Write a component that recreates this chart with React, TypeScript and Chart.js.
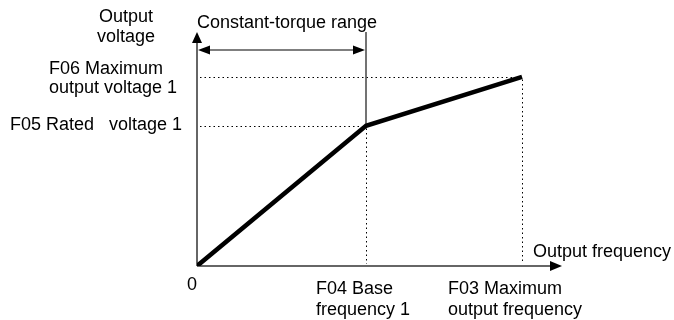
import React, { useEffect, useRef } from "react";
import { Chart, registerables } from "chart.js";

Chart.register(...registerables);

// ---- data ----
const freqValues = [0, 52, 100]; // origin, base frequency, maximum output frequency
const voltageValues = [0, 100, 135]; // origin, rated voltage, maximum output voltage
const freqLabels = ["0", "F04 Base\nfrequency 1", "F03 Maximum\noutput frequency"];
const voltageLabels = ["", "F05 Rated   voltage 1", "F06 Maximum\noutput voltage 1"];
const xAxisTitle = "Output frequency";
const yAxisTitle = ["Output", "voltage"];
const rangeLabel = "Constant-torque range";
const xMax = 112.3;
const yMax = 167;

const FONT = "18px 'Liberation Sans', Arial, sans-serif";

function arrowHead(ctx: CanvasRenderingContext2D, tx: number, ty: number, dir: "up" | "right" | "left", len: number, half: number) {
  ctx.beginPath();
  if (dir === "up") {
    ctx.moveTo(tx, ty);
    ctx.lineTo(tx - half, ty + len);
    ctx.lineTo(tx + half, ty + len);
  } else if (dir === "right") {
    ctx.moveTo(tx, ty);
    ctx.lineTo(tx - len, ty - half);
    ctx.lineTo(tx - len, ty + half);
  } else {
    ctx.moveTo(tx, ty);
    ctx.lineTo(tx + len, ty - half);
    ctx.lineTo(tx + len, ty + half);
  }
  ctx.closePath();
  ctx.fill();
}

const vfPlugin = {
  id: "vfDiagram",
  beforeDatasetsDraw(chart: any) {
    const { ctx, chartArea } = chart;
    const xs = chart.scales.x;
    const ys = chart.scales.y;
    const x0 = Math.round(xs.getPixelForValue(0));
    const y0 = Math.round(ys.getPixelForValue(0));
    ctx.save();

    // dotted guide lines
    ctx.strokeStyle = "#000";
    ctx.lineWidth = 1;
    ctx.setLineDash([1.5, 3]);
    for (let i = 1; i < freqValues.length; i++) {
      const px = Math.round(xs.getPixelForValue(freqValues[i])) + 0.5;
      const py = Math.round(ys.getPixelForValue(voltageValues[i])) + 0.5;
      ctx.beginPath();
      ctx.moveTo(x0 + 3, py);
      ctx.lineTo(px, py);
      ctx.stroke();
      ctx.beginPath();
      ctx.moveTo(px, py + 2);
      ctx.lineTo(px, y0 - 2);
      ctx.stroke();
    }
    ctx.setLineDash([]);

    // axes
    ctx.strokeStyle = "#333";
    ctx.fillStyle = "#000";
    ctx.lineWidth = 1.5;
    ctx.beginPath();
    ctx.moveTo(x0, y0);
    ctx.lineTo(x0, chartArea.top + 10);
    ctx.stroke();
    arrowHead(ctx, x0, chartArea.top, "up", 11, 5);
    ctx.beginPath();
    ctx.moveTo(x0, y0);
    ctx.lineTo(chartArea.right - 11, y0);
    ctx.stroke();
    arrowHead(ctx, chartArea.right, y0, "right", 12, 5);

    // constant-torque range marker
    const bx = Math.round(xs.getPixelForValue(freqValues[1]));
    const by = ys.getPixelForValue(voltageValues[1]);
    ctx.strokeStyle = "#444";
    ctx.lineWidth = 1.5;
    ctx.beginPath();
    ctx.moveTo(bx, chartArea.top);
    ctx.lineTo(bx, by);
    ctx.stroke();
    const ay = chartArea.top + 18;
    ctx.strokeStyle = "#000";
    ctx.lineWidth = 1.2;
    ctx.beginPath();
    ctx.moveTo(x0 + 10, ay);
    ctx.lineTo(bx - 10, ay);
    ctx.stroke();
    arrowHead(ctx, x0 + 1, ay, "left", 12, 4.5);
    arrowHead(ctx, bx - 1, ay, "right", 12, 4.5);
    ctx.restore();
  },
  afterDraw(chart: any) {
    const { ctx, chartArea } = chart;
    const xs = chart.scales.x;
    const ys = chart.scales.y;
    const x0 = xs.getPixelForValue(0);
    const y0 = ys.getPixelForValue(0);
    ctx.save();
    ctx.font = FONT;
    ctx.fillStyle = "#000";
    ctx.textBaseline = "alphabetic";

    // y axis title
    ctx.textAlign = "center";
    ctx.fillText(yAxisTitle[0], x0 - 71, chartArea.top - 10);
    ctx.fillText(yAxisTitle[1], x0 - 71, chartArea.top + 10);

    // range label
    ctx.textAlign = "left";
    ctx.fillText(rangeLabel, x0, chartArea.top - 4);

    // y labels
    const ry = ys.getPixelForValue(voltageValues[1]);
    ctx.fillText(voltageLabels[1], x0 - 187, ry + 4);
    const my = ys.getPixelForValue(voltageValues[2]);
    const mLines = voltageLabels[2].split("\n");
    ctx.fillText(mLines[0], x0 - 148, my - 3);
    ctx.fillText(mLines[1], x0 - 148, my + 16);

    // x labels
    ctx.textAlign = "center";
    ctx.fillText(freqLabels[0], x0 - 5, y0 + 24);
    ctx.textAlign = "left";
    const bx = xs.getPixelForValue(freqValues[1]);
    const bLines = freqLabels[1].split("\n");
    ctx.fillText(bLines[0], bx - 50, y0 + 28);
    ctx.fillText(bLines[1], bx - 50, y0 + 49);
    const mx = xs.getPixelForValue(freqValues[2]);
    const fLines = freqLabels[2].split("\n");
    ctx.fillText(fLines[0], mx - 74, y0 + 28);
    ctx.fillText(fLines[1], mx - 74, y0 + 49);

    // x axis title
    ctx.fillText(xAxisTitle, chartArea.right - 29, y0 - 9);
    ctx.restore();
  },
};

export default function App() {
  const ref = useRef<HTMLCanvasElement | null>(null);
  useEffect(() => {
    if (!ref.current) return;
    const chart = new Chart(ref.current, {
      type: "line",
      data: {
        datasets: [
          {
            data: freqValues.map((f, i) => ({ x: f, y: voltageValues[i] })),
            borderColor: "#000",
            borderWidth: 4.5,
            pointRadius: 0,
            tension: 0,
            fill: false,
            borderJoinStyle: "miter",
          },
        ],
      },
      options: {
        responsive: false,
        animation: false,
        layout: { padding: { left: 197, right: 112, top: 32, bottom: 54 } },
        plugins: { legend: { display: false }, tooltip: { enabled: false } },
        scales: {
          x: { type: "linear", min: 0, max: xMax, display: false },
          y: { type: "linear", min: 0, max: yMax, display: false },
        },
      },
      plugins: [vfPlugin],
    } as any);
    return () => chart.destroy();
  }, []);
  return (
    <div style={{ position: "fixed", left: 0, top: 0, width: 674, height: 320, background: "#fff" }}>
      <canvas ref={ref} width={674} height={320} style={{ width: 674, height: 320 }} />
    </div>
  );
}
